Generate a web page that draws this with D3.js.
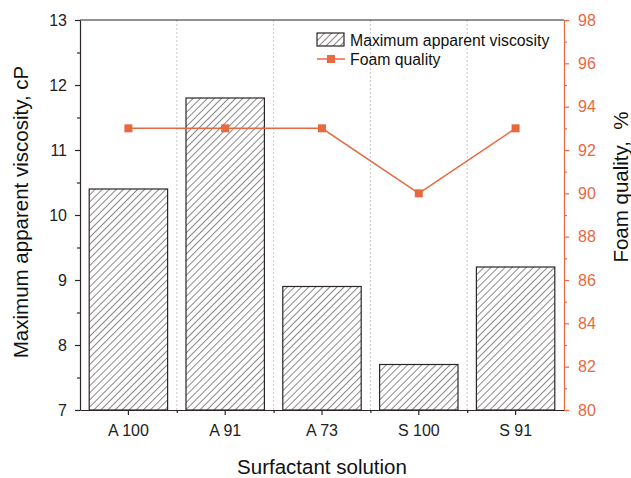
<!DOCTYPE html>
<html>
<head>
<meta charset="utf-8">
<script src="https://cdn.jsdelivr.net/npm/d3@7"></script>
<style>
  body { margin: 0; background: #fff; }
  text { font-family: "Liberation Sans", Arial, sans-serif; }
</style>
</head>
<body>
<div id="chart"></div>
<script>
// data
var categories = ["A 100", "A 91", "A 73", "S 100", "S 91"];
var viscosity = [10.4, 11.8, 8.9, 7.7, 9.2];
var foamQuality = [93, 93, 93, 90, 93];
var leftTicks = [7, 8, 9, 10, 11, 12, 13];
var rightTicks = [80, 82, 84, 86, 88, 90, 92, 94, 96, 98];

var orange = "#e8693f";
var dark = "#2b2525";

var margin = {top: 20, right: 67, bottom: 68, left: 80},
    width = 631 - margin.left - margin.right,
    height = 478 - margin.top - margin.bottom;

var x = d3.scaleBand().domain(categories).range([0, width]).paddingInner(0.19).paddingOuter(0.095);
var xb = d3.scaleLinear().domain([0, categories.length]).range([0, width]);
var y = d3.scaleLinear().domain([7, 13]).range([height, 0]);
var y2 = d3.scaleLinear().domain([80, 98]).range([height, 0]);

var svg = d3.select("#chart").append("svg")
    .attr("width", 631)
    .attr("height", 478);

var defs = svg.append("defs");
var pat = defs.append("pattern")
    .attr("id", "hatch")
    .attr("patternUnits", "userSpaceOnUse")
    .attr("width", 5).attr("height", 5)
    .attr("patternTransform", "rotate(45)");
pat.append("rect").attr("width", 5).attr("height", 5).attr("fill", "#fff");
pat.append("line")
    .attr("x1", 0).attr("y1", 0).attr("x2", 0).attr("y2", 5)
    .attr("stroke", dark).attr("stroke-width", 1.1);

var g = svg.append("g")
    .attr("transform", "translate(" + margin.left + "," + margin.top + ")");

// vertical grid lines at band boundaries
g.append("g").selectAll("line")
    .data(d3.range(1, categories.length))
  .enter().append("line")
    .attr("x1", function(d) { return xb(d); })
    .attr("x2", function(d) { return xb(d); })
    .attr("y1", 0).attr("y2", height)
    .attr("stroke", "#c8c8c8")
    .attr("stroke-dasharray", "2,2")
    .attr("stroke-width", 1);

// bars
g.append("g").selectAll("rect")
    .data(viscosity)
  .enter().append("rect")
    .attr("x", function(d, i) { return x(categories[i]); })
    .attr("width", x.bandwidth())
    .attr("y", function(d) { return y(d); })
    .attr("height", function(d) { return height - y(d); })
    .attr("fill", "url(#hatch)")
    .attr("stroke", dark)
    .attr("stroke-width", 1.2);

// foam quality line
var line = d3.line()
    .x(function(d, i) { return x(categories[i]) + x.bandwidth() / 2; })
    .y(function(d) { return y2(d); });

g.append("path")
    .datum(foamQuality)
    .attr("d", line)
    .attr("fill", "none")
    .attr("stroke", orange)
    .attr("stroke-width", 1.5);

g.append("g").selectAll("rect")
    .data(foamQuality)
  .enter().append("rect")
    .attr("x", function(d, i) { return x(categories[i]) + x.bandwidth() / 2 - 4; })
    .attr("y", function(d) { return y2(d) - 4; })
    .attr("width", 8).attr("height", 8)
    .attr("fill", orange);

// top frame
g.append("line")
    .attr("x1", 0).attr("x2", width).attr("y1", 0).attr("y2", 0)
    .attr("stroke", dark).attr("stroke-width", 1.2);

// left axis
var yAxis = g.append("g").attr("class", "ax-dark")
    .call(d3.axisLeft(y).tickValues(leftTicks).tickFormat(d3.format("d"))
      .tickSize(5).tickSizeOuter(0).tickPadding(8));
g.append("g").attr("class", "ax-dark")
    .call(d3.axisLeft(y).tickValues(d3.range(7.5, 13, 1)).tickSize(3).tickFormat(""))
    .select(".domain").remove();
yAxis.selectAll("text").attr("font-size", 16).attr("fill", "#222");

// bottom axis
var xAxis = g.append("g").attr("class", "ax-dark")
    .attr("transform", "translate(0," + height + ")")
    .call(d3.axisBottom(x).tickSize(5).tickSizeOuter(0).tickPadding(10));
xAxis.selectAll("text").attr("font-size", 16).attr("fill", "#222");
g.append("g").attr("class", "ax-dark")
    .attr("transform", "translate(0," + height + ")")
    .call(d3.axisBottom(xb).tickValues(d3.range(1, categories.length)).tickSize(3).tickFormat(""))
    .select(".domain").remove();

// right axis
var y2Axis = g.append("g").attr("class", "ax-orange")
    .attr("transform", "translate(" + width + ",0)")
    .call(d3.axisRight(y2).tickValues(rightTicks).tickSize(5).tickSizeOuter(0).tickPadding(9));
g.append("g").attr("class", "ax-orange")
    .attr("transform", "translate(" + width + ",0)")
    .call(d3.axisRight(y2).tickValues(d3.range(81, 98, 2)).tickSize(3).tickFormat(""))
    .select(".domain").remove();
y2Axis.selectAll("text").attr("font-size", 16).attr("fill", orange);

svg.selectAll(".domain, .tick line").attr("stroke-width", 1.2);
svg.selectAll(".ax-dark .domain, .ax-dark .tick line").attr("stroke", dark);
svg.selectAll(".ax-orange .domain, .ax-orange .tick line").attr("stroke", orange);

// axis titles
svg.append("text")
    .attr("transform", "translate(28," + (margin.top + height / 2 - 3) + ") rotate(-90)")
    .attr("text-anchor", "middle")
    .attr("font-size", 20.5)
    .attr("fill", "#111")
    .text("Maximum apparent viscosity, cP");

svg.append("text")
    .attr("transform", "translate(628,187) rotate(-90)")
    .attr("text-anchor", "middle")
    .attr("font-size", 20.5)
    .attr("fill", "#111")
    .attr("xml:space", "preserve")
    .style("white-space", "pre")
    .text("Foam quality,  %");

svg.append("text")
    .attr("x", margin.left + width / 2)
    .attr("y", 474)
    .attr("text-anchor", "middle")
    .attr("font-size", 20.5)
    .attr("fill", "#111")
    .text("Surfactant solution");

// legend
var legend = svg.append("g").attr("transform", "translate(317,33)");
legend.append("rect")
    .attr("width", 27).attr("height", 13)
    .attr("fill", "url(#hatch)")
    .attr("stroke", dark).attr("stroke-width", 1.2);
legend.append("text")
    .attr("x", 33).attr("y", 13)
    .attr("font-size", 15.8).attr("fill", "#111")
    .text("Maximum apparent viscosity");
legend.append("line")
    .attr("x1", 0).attr("x2", 28).attr("y1", 26).attr("y2", 26)
    .attr("stroke", orange).attr("stroke-width", 1.5);
legend.append("rect")
    .attr("x", 10).attr("y", 22).attr("width", 8).attr("height", 8)
    .attr("fill", orange);
legend.append("text")
    .attr("x", 33).attr("y", 32)
    .attr("font-size", 15.8).attr("fill", "#111")
    .text("Foam quality");
</script>
</body>
</html>
